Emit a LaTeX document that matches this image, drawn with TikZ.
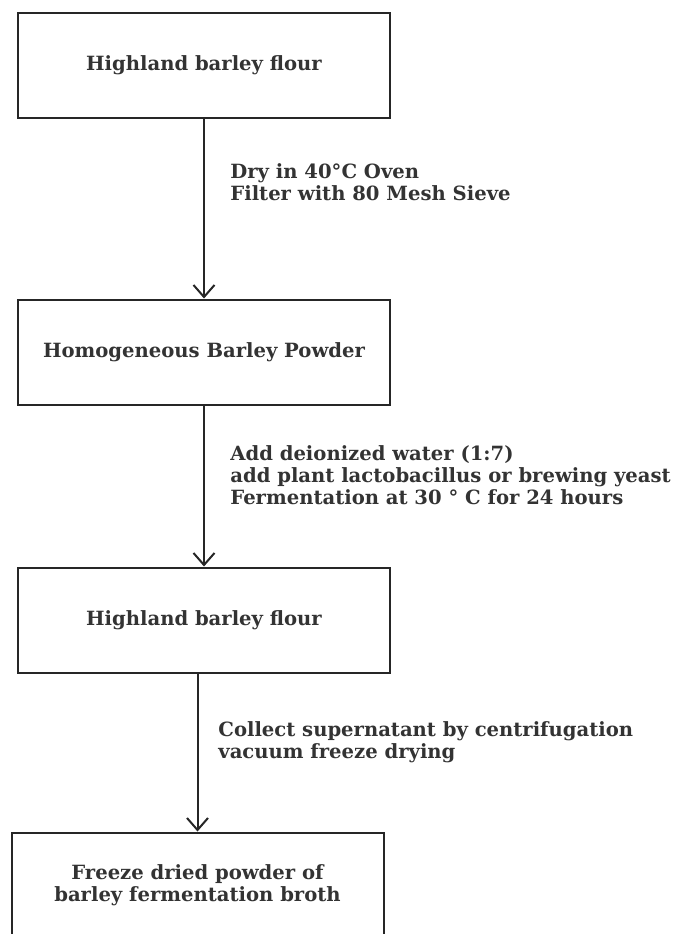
\documentclass[tikz,border=0pt]{standalone}
\usepackage{fontspec}
\setmainfont{DejaVu Serif}
\usepackage{tikz}
\usetikzlibrary{arrows.meta}

\begin{document}
\begin{tikzpicture}[x=0.5pt, y=-0.5pt,
  >={Straight Barb[length=6pt,width=10.5pt]},
  box/.style={draw=black!85, line width=1pt, minimum width=186pt, minimum height=52.5pt,
    inner sep=0pt, align=center, text=black!80, font=\bfseries\fontsize{9.8}{10.8}\selectfont},
  lbl/.style={anchor=west, align=left, inner sep=0pt, text=black!80,
    font=\bfseries\fontsize{9.8}{11}\selectfont}]
  \useasboundingbox (0, 0) rectangle (678, 934);
  \clip (0, 0) rectangle (678, 934);
  \node [box] (flour) at (204, 65.5) {Highland barley flour};
  \node [box] (powder) at (204, 352) {Homogeneous Barley Powder};
  \node [box] (broth) at (204, 620) {Highland barley flour};
  \node [box] (dried) at (197.5, 885) {Freeze dried powder of\\barley fermentation broth};
  \node [lbl] (dry) at (230, 182.5) {Dry in 40°C Oven\\Filter with 80 Mesh Sieve};
  \node [lbl] (ferm) at (230, 475.5) {Add deionized water (1:7)\\add plant lactobacillus or brewing yeast\\Fermentation at 30 ° C for 24 hours};
  \node [lbl] (collect) at (218, 742) {Collect supernatant by centrifugation\\vacuum freeze drying};
  \draw [line width=1pt, black!85, ->] (flour.south) -- (powder.north);
  \draw [line width=1pt, black!85, ->] (powder.south) -- (broth.north);
  \draw [line width=1pt, black!85, ->] (broth.south -| dried.north) -- (dried.north);
\end{tikzpicture}
\end{document}
